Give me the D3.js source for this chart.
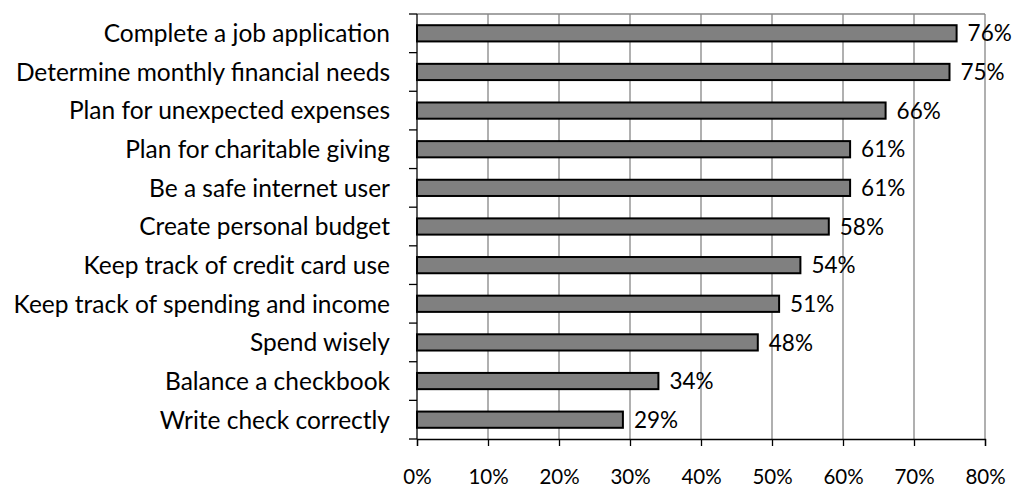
<!DOCTYPE html>
<html>
<head>
<meta charset="utf-8">
<script src="https://cdn.jsdelivr.net/npm/d3@7/dist/d3.min.js"></script>
<style>
  html, body { margin: 0; padding: 0; background: #fff; }
  svg text { font-family: Lato, "Open Sans", sans-serif; fill: #000; }
</style>
</head>
<body>
<svg id="chart" width="1014" height="487"></svg>
<script>
// Share of respondents per skill (percent)
const categories = [
  "Complete a job application",
  "Determine monthly financial needs",
  "Plan for unexpected expenses",
  "Plan for charitable giving",
  "Be a safe internet user",
  "Create personal budget",
  "Keep track of credit card use",
  "Keep track of spending and income",
  "Spend wisely",
  "Balance a checkbook",
  "Write check correctly"
];
const values = [76, 75, 66, 61, 61, 58, 54, 51, 48, 34, 29];
const tickValues = [0, 10, 20, 30, 40, 50, 60, 70, 80];

const svg = d3.select("#chart");
const plotLeft = 417, plotRight = 985, plotTop = 14, plotBottom = 439;

const x = d3.scaleLinear().domain([0, 80]).range([plotLeft, plotRight]);
const y = d3.scaleBand().domain(categories).range([plotTop, plotBottom]).paddingInner(0.58).paddingOuter(0.29);
const band = (plotBottom - plotTop) / categories.length;

// vertical gridlines
svg.append("g").selectAll("line").data(tickValues.slice(1)).join("line")
  .attr("x1", d => x(d)).attr("x2", d => x(d))
  .attr("y1", plotTop).attr("y2", plotBottom)
  .attr("stroke", "#868686").attr("stroke-width", 1.3);

// top border
svg.append("line").attr("x1", plotLeft).attr("x2", plotRight).attr("y1", plotTop).attr("y2", plotTop)
  .attr("stroke", "#868686").attr("stroke-width", 1.3);

// bars
svg.append("g").selectAll("rect").data(values).join("rect")
  .attr("x", x(0))
  .attr("y", (d, i) => y(categories[i]))
  .attr("width", d => x(d) - x(0))
  .attr("height", y.bandwidth())
  .attr("fill", "#808080")
  .attr("stroke", "#000")
  .attr("stroke-width", 2);

// value labels
svg.append("g").selectAll("text").data(values).join("text")
  .attr("x", d => x(d) + 11)
  .attr("y", (d, i) => y(categories[i]) + y.bandwidth() / 2)
  .attr("dy", "0.36em")
  .attr("font-size", 22.5)
  .text(d => d + "%");

// left axis with ticks at band boundaries
const yAxis = svg.append("g");
yAxis.append("line").attr("x1", plotLeft).attr("x2", plotLeft).attr("y1", plotTop).attr("y2", plotBottom)
  .attr("stroke", "#000").attr("stroke-width", 1.3);
yAxis.selectAll("line.tick").data(d3.range(categories.length + 1)).join("line")
  .attr("class", "tick")
  .attr("x1", plotLeft - 8).attr("x2", plotLeft)
  .attr("y1", i => plotTop + i * band).attr("y2", i => plotTop + i * band)
  .attr("stroke", "#000").attr("stroke-width", 1.3);
yAxis.selectAll("text").data(categories).join("text")
  .attr("x", 390)
  .attr("y", d => y(d) + y.bandwidth() / 2)
  .attr("dy", "0.36em")
  .attr("text-anchor", "end")
  .attr("font-size", 24.5)
  .text(d => d);

// bottom axis
const xAxis = svg.append("g").attr("transform", `translate(0,${plotBottom})`)
  .call(d3.axisBottom(x).tickValues(tickValues).tickSize(7).tickFormat(d => d + "%"));
xAxis.select(".domain").attr("stroke", "#000").attr("stroke-width", 1.3);
xAxis.selectAll(".tick line").attr("stroke", "#000").attr("stroke-width", 1.3);
xAxis.selectAll(".tick text")
  .attr("y", 38).attr("dy", "0.36em")
  .attr("font-size", 20.5)
  .style("font-family", "Lato, 'Open Sans', sans-serif");
</script>
</body>
</html>
